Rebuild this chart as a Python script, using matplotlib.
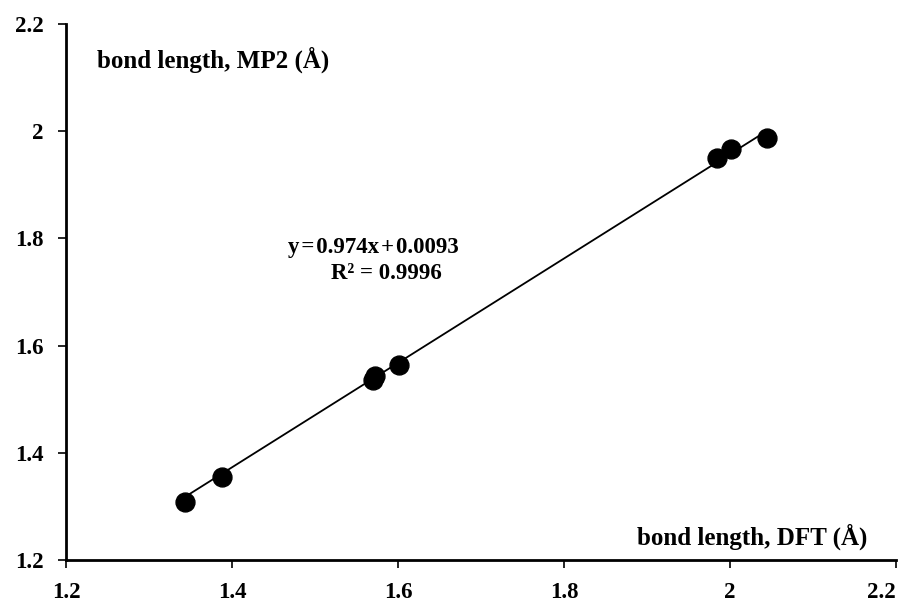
import matplotlib
matplotlib.use("Agg")
import matplotlib.pyplot as plt
import numpy as np

dft = [1.343, 1.388, 1.570, 1.572, 1.601, 1.984, 2.001, 2.045]
mp2 = [1.308, 1.354, 1.536, 1.543, 1.564, 1.950, 1.966, 1.988]
slope, intercept = 0.974, 0.0093
r2 = 0.9996
ticks = [1.2, 1.4, 1.6, 1.8, 2.0, 2.2]
tick_labels = ["1.2", "1.4", "1.6", "1.8", "2", "2.2"]

plt.rcParams['font.family'] = ['Liberation Serif', 'DejaVu Serif']
plt.rcParams['font.weight'] = 'bold'

fig = plt.figure(figsize=(9.14, 6.05), dpi=100)
ax = fig.add_axes([66/914, 1-560/605, (896-66)/914, (560-24)/605])

xl = np.array([min(dft), max(dft)])
ax.plot(xl, slope*xl + intercept, color='black', lw=1.3, zorder=2)
ax.scatter(dft, mp2, s=185, color='black', zorder=3)

ax.set_xlim(1.2, 2.2)
ax.set_ylim(1.2, 2.2)
ax.set_xticks(ticks)
ax.set_xticklabels(tick_labels)
ax.set_yticks(ticks)
ax.set_yticklabels(tick_labels)
for s in ['top', 'right']:
    ax.spines[s].set_visible(False)
for s in ['left', 'bottom']:
    ax.spines[s].set_linewidth(2)
ax.tick_params(axis='both', direction='out', length=6, width=1.2, pad=10,
               labelsize=16.5)
for lab in ax.get_xticklabels() + ax.get_yticklabels():
    lab.set_fontweight('bold')
ax.get_xticklabels()[-1].set_horizontalalignment('right')

ax.text(1.237, 2.118, "bond length, MP2 (Å)", fontsize=18, fontweight='bold',
        ha='left', va='baseline')
ax.text(2.166, 1.228, "bond length, DFT (Å)", fontsize=18, fontweight='bold',
        ha='right', va='baseline')
hs = "\u200a"
ax.text(1.4675, 1.772, f"y{hs}={hs}{slope}x{hs}+{hs}{intercept}", fontsize=16.5,
        fontweight='bold', ha='left', va='baseline')
ax.text(1.519, 1.725, f"R² = {r2}", fontsize=16.5,
        fontweight='bold', ha='left', va='baseline')

fig.savefig("out.png", dpi=100)
